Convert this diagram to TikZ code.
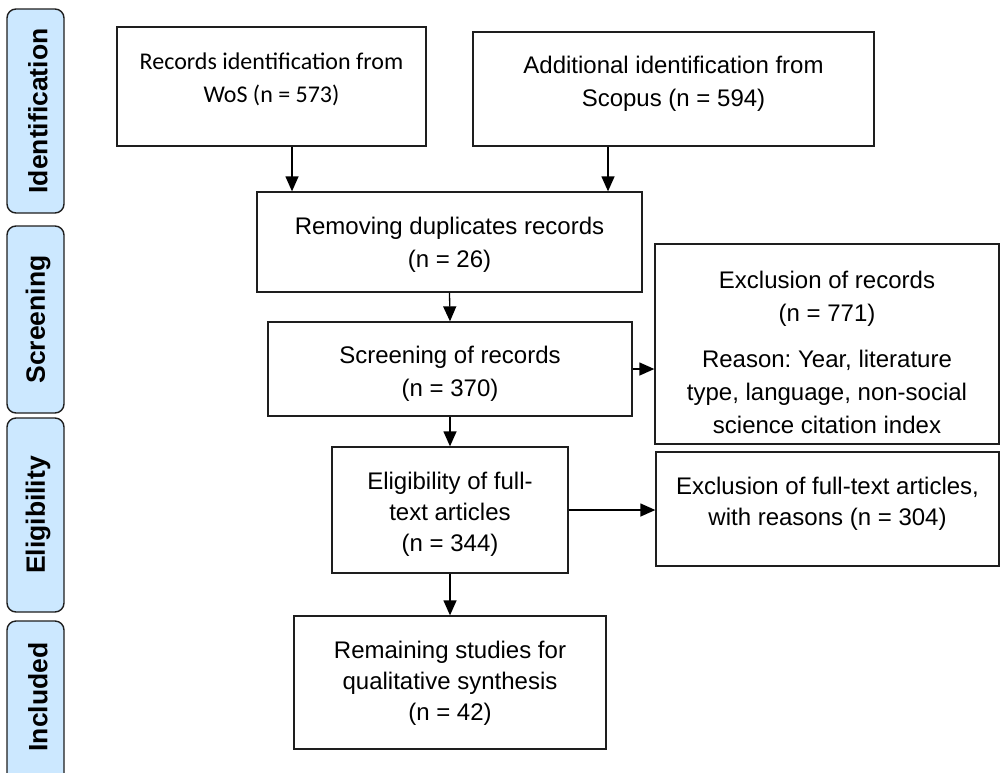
\documentclass[tikz,border=0pt]{standalone}
\usepackage{fontspec}
\setmainfont{Liberation Sans}
\newfontfamily\calfont{Carlito}
\usetikzlibrary{arrows.meta}
\definecolor{sidefill}{HTML}{CCE8FF}
\definecolor{edgecol}{HTML}{1E1E1E}
\frenchspacing
\begin{document}
\begin{tikzpicture}[x=1pt,y=-1pt,
  box/.style={draw=edgecol,line width=1.3pt,rectangle,inner sep=0pt},
  side/.style={draw=edgecol,fill=sidefill,line width=1.4pt,rounded corners=9pt},
  sidelabel/.style={rotate=90,inner sep=0pt,font=\fontsize{26.5}{30}\selectfont\bfseries},
  txt/.style={align=center,inner sep=0pt,font=\fontsize{24}{33}\selectfont},
  txtn/.style={align=center,inner sep=0pt,font=\fontsize{24}{31}\selectfont},
  arr/.style={draw=black,line width=1.3pt,-{Triangle[length=15pt,width=13pt]}}]
\clip (0,0) rectangle (1001,772);

% side phase bars
\draw[side] (7,9) rectangle (64,213);
\draw[side] (7,226) rectangle (64,413);
\draw[side] (7,418) rectangle (64,612);
\draw[side] (7,621) rectangle (64,800);
\node[sidelabel] (lid) at (38,111) {Identification};
\node[sidelabel] (lsc) at (38,319.5) {Screening};
\node[sidelabel] (lel) at (38,515) {Eligibility};
\node[sidelabel] (lin) at (38,697) {Included};

% boxes
\node[box,minimum width=309pt,minimum height=119pt] (wos) at (271.5,86.5) {};
\node[box,minimum width=401pt,minimum height=114pt] (scop) at (673.5,89) {};
\node[box,minimum width=385pt,minimum height=100pt] (rem) at (449.5,242) {};
\node[box,minimum width=364pt,minimum height=94pt] (scr) at (450,369) {};
\node[box,minimum width=344pt,minimum height=200pt] (ex1) at (827,344) {};
\node[box,minimum width=236pt,minimum height=126pt] (elig) at (450,510) {};
\node[box,minimum width=343pt,minimum height=114pt] (ex2) at (827.5,509) {};
\node[box,minimum width=312pt,minimum height=133pt] (fin) at (450,682.5) {};

% texts
\node[txt,font=\calfont\fontsize{24}{33}\selectfont] (twos) at (271.5,79.5) {Records identification from\\WoS (n = 573)};
\node[txt] (tscop) at (673.5,83.5) {Additional identification from\\Scopus (n = 594)};
\node[txt] (trem) at (449.5,244.5) {Removing duplicates records\\(n = 26)};
\node[txt] (tscr) at (450,373.5) {Screening of records\\(n = 370)};
\node[txt] (tex1) at (827,352.5) {Exclusion of records\\(n = 771)\\[13pt]Reason: Year, literature\\type, language, non-social\\science citation index};
\node[txtn] (telig) at (450,514) {Eligibility of full-\\text articles\\(n = 344)};
\node[txtn] (tex2) at (827.5,503.5) {Exclusion of full-text articles,\\with reasons (n = 304)};
\node[txtn] (tfin) at (450,683) {Remaining studies for\\qualitative synthesis\\(n = 42)};

% connectors
\coordinate (c1) at (292,0);
\coordinate (c2) at (608,0);
\draw[arr] (wos.south -| c1) -- (rem.north -| c1);
\draw[arr] (scop.south -| c2) -- (rem.north -| c2);
\draw[arr] (rem.south) -- (scr.north);
\draw[arr] (scr.east) -- (scr.east -| ex1.west);
\draw[arr] (scr.south) -- (elig.north);
\draw[arr] (elig.east) -- (elig.east -| ex2.west);
\draw[arr] (elig.south) -- (fin.north);
\end{tikzpicture}
\end{document}
